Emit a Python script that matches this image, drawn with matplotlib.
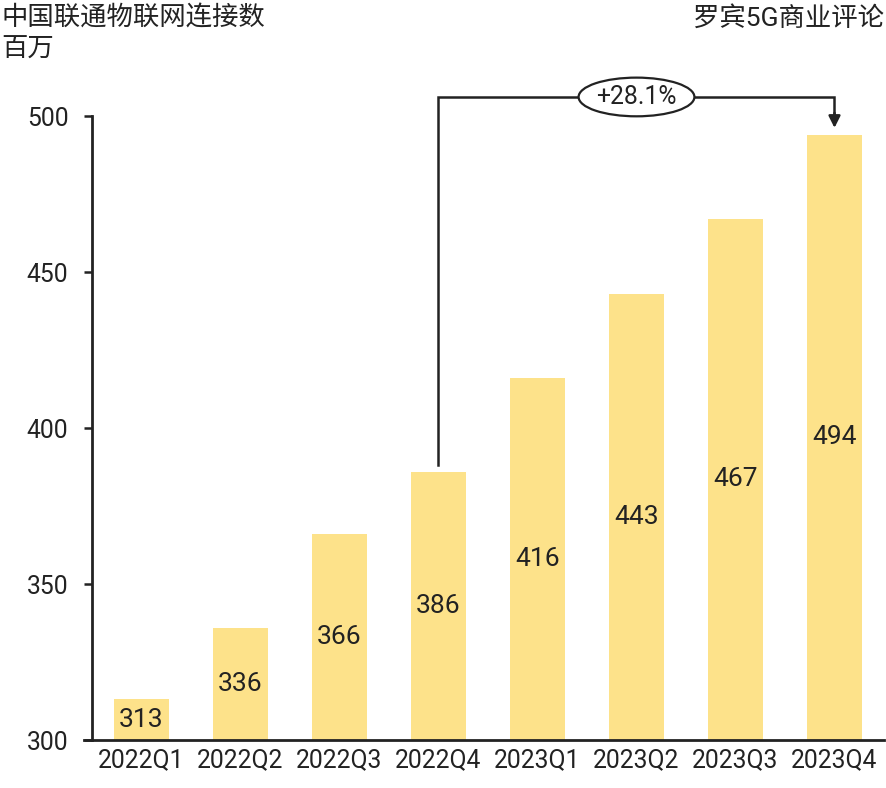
import matplotlib
matplotlib.use("Agg")
import matplotlib.pyplot as plt
from matplotlib.patches import Ellipse

plt.rcParams['font.family'] = ['Roboto', 'Noto Sans CJK SC', 'DejaVu Sans']

categories = ["2022Q1", "2022Q2", "2022Q3", "2022Q4", "2023Q1", "2023Q2", "2023Q3", "2023Q4"]
values = [313, 336, 366, 386, 416, 443, 467, 494]
yticks = [300, 350, 400, 450, 500]
title = "中国联通物联网连接数"
unit = "百万"
source = "罗宾5G商业评论"
growth_label = "+28.1%"

bar_color = "#FDE28A"
text_color = "#222222"

fig = plt.figure(figsize=(8.87, 7.88), dpi=100)
ax = fig.add_axes([92/887, 48/788, 792/887, 624/788])

x = list(range(len(categories)))
ax.bar(x, [v - 300 for v in values], bottom=300, width=0.55, color=bar_color, zorder=2)
for xi, v in zip(x, values):
    ax.text(xi, (300 + v) / 2, str(v), ha="center", va="center", fontsize=19, color=text_color)

ax.set_xlim(-0.5, len(categories) - 0.5)
ax.set_ylim(300, 500)
ax.set_yticks(yticks)
ax.set_yticklabels([str(t) for t in yticks], fontsize=17.8, color=text_color)
ax.set_xticks(x)
ax.set_xticklabels(categories, fontsize=17.8, color=text_color)
ax.tick_params(axis="x", length=0, pad=6)
ax.tick_params(axis="y", length=5.5, width=1.8, color=text_color, pad=11.5)
for s in ["top", "right"]:
    ax.spines[s].set_visible(False)
for s in ["left", "bottom"]:
    ax.spines[s].set_linewidth(2)
    ax.spines[s].set_color(text_color)
ax.spines["bottom"].set_bounds(-0.58, len(categories) - 0.5)

# growth annotation
i0, i1 = 3, 7
y_line = 506.1
ax.plot([i0, i0, i1, i1], [values[i0] + 2.2, y_line, y_line, 500.5], color=text_color,
        lw=1.8, clip_on=False, zorder=3, solid_joinstyle="miter")
ax.annotate("", xy=(i1, 496.2), xytext=(i1, 501), xycoords="data",
            arrowprops=dict(arrowstyle="-|>,head_length=0.7,head_width=0.35", color=text_color, lw=1.8,
                            shrinkA=0, shrinkB=0), annotation_clip=False)
xm = (i0 + i1) / 2
ell = Ellipse((xm, y_line), width=1.17, height=12.4, facecolor="white", edgecolor=text_color,
              lw=1.6, clip_on=False, zorder=4)
ax.add_patch(ell)
ax.text(xm, y_line, growth_label, ha="center", va="center", fontsize=17.8, color=text_color,
        zorder=5, clip_on=False)

fig.text(1/887, 1 - 18/788, title, ha="left", va="center", fontsize=19, color=text_color)
fig.text(1/887, 1 - 50/788, unit, ha="left", va="center", fontsize=19, color=text_color)
fig.text(884/887, 1 - 18/788, source, ha="right", va="center", fontsize=19, color=text_color)

fig.savefig("out.png", dpi=100)
